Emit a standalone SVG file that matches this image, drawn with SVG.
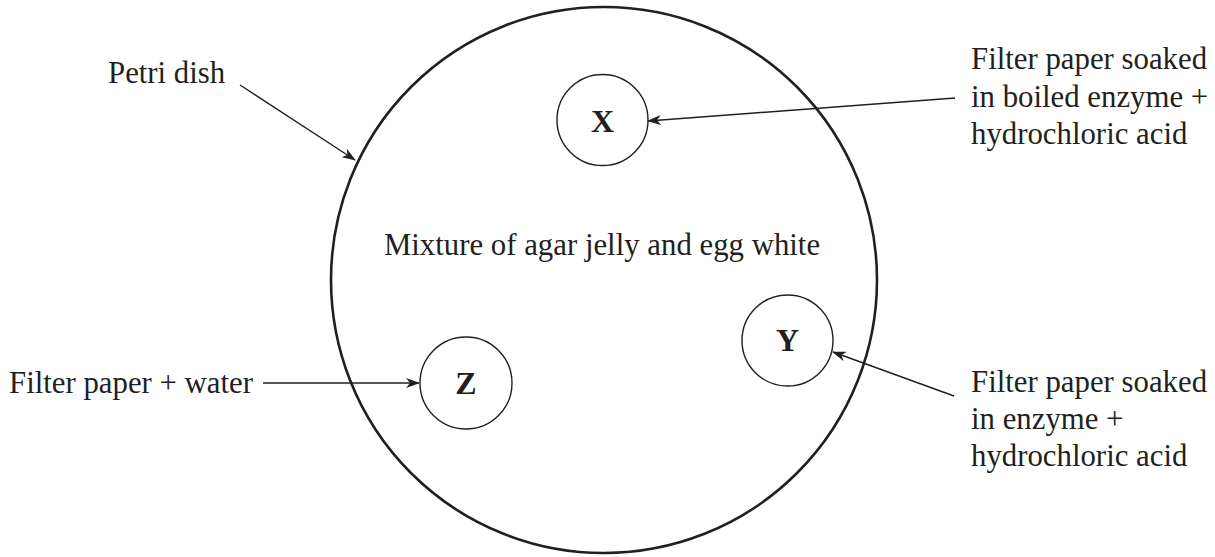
<svg xmlns="http://www.w3.org/2000/svg" width="1215" height="557" viewBox="0 0 1215 557">
<style>
text{font-family:"Liberation Serif","Times New Roman",serif;fill:#231f20;font-size:30.8px}
.b{font-weight:bold;text-anchor:middle;font-size:32px}
.dish{fill:none;stroke:#231f20;stroke-width:2.6}
.paper{fill:none;stroke:#231f20;stroke-width:1.4}
.ln{stroke:#231f20;stroke-width:1.4;fill:none;marker-end:url(#ah)}
</style>
<defs>
<marker id="ah" viewBox="0 0 14 10" refX="13" refY="5" markerWidth="14" markerHeight="10" markerUnits="userSpaceOnUse" orient="auto">
<path d="M0,0 L14,5 L0,10 L4,5 Z" fill="#231f20"/>
</marker>
</defs>
<g id="dish">
<circle class="dish" cx="604" cy="280" r="273"/>
<text x="602" y="255" text-anchor="middle">Mixture of agar jelly and egg white</text>
</g>
<g id="X">
<circle class="paper" cx="602.5" cy="120" r="45.5"/>
<text class="b" x="602.5" y="132">X</text>
</g>
<g id="Y">
<circle class="paper" cx="787.5" cy="340.5" r="45.5"/>
<text class="b" x="787.5" y="351">Y</text>
</g>
<g id="Z">
<circle class="paper" cx="466" cy="383" r="46"/>
<text class="b" x="466" y="394">Z</text>
</g>
<g id="labels">
<text x="108" y="83">Petri dish</text>
<text x="9" y="393">Filter paper + water</text>
<text x="971" y="69">Filter paper soaked</text>
<text x="971" y="107">in boiled enzyme +</text>
<text x="971" y="144">hydrochloric acid</text>
<text x="971" y="392">Filter paper soaked</text>
<text x="971" y="429">in enzyme +</text>
<text x="971" y="466">hydrochloric acid</text>
</g>
<g id="connectors">
<line class="ln" x1="240" y1="85" x2="355" y2="160"/>
<line class="ln" x1="955" y1="98" x2="648" y2="121"/>
<line class="ln" x1="954" y1="396" x2="833" y2="352"/>
<line class="ln" x1="263" y1="383" x2="419" y2="383"/>
</g>
</svg>
